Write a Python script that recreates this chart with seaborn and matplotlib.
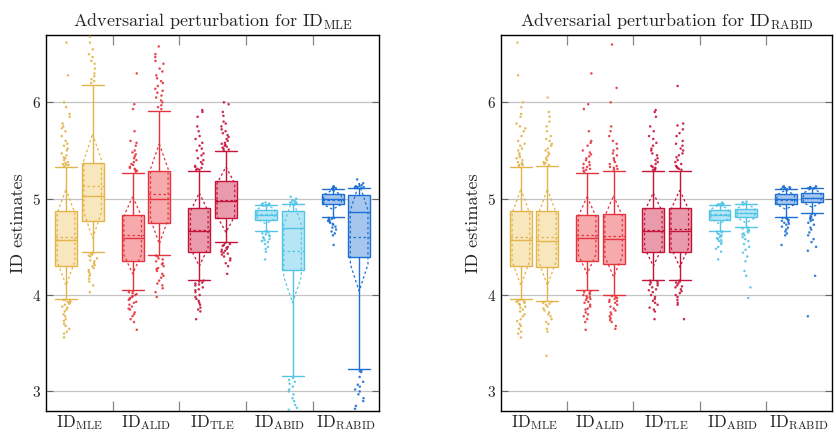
import numpy as np
import pandas as pd
import matplotlib
matplotlib.use("Agg")
import matplotlib.pyplot as plt
import seaborn as sns

# estimators and colours
estimators = ["MLE", "ALID", "TLE", "ABID", "RABID"]
edge_colors = ["#E2B44A", "#E5343D", "#C5143A", "#52C5E6", "#1D6FD2"]
fill_colors = ["#F8E6BC", "#F6AAAC", "#E99BAB", "#B6E6F5", "#A7C6EE"]

# clean estimates (same in both panels): q1, median, q3, whisker low/high, mean, sd
clean_q1 = [4.30, 4.35, 4.45, 4.78, 4.95]
clean_med = [4.57, 4.59, 4.66, 4.83, 5.00]
clean_q3 = [4.87, 4.83, 4.90, 4.88, 5.05]
clean_wlo = [3.96, 4.05, 4.16, 4.67, 4.81]
clean_whi = [5.33, 5.27, 5.29, 4.93, 5.10]
clean_mean = [4.60, 4.62, 4.68, 4.84, 4.99]
clean_sd = [0.25, 0.20, 0.19, 0.05, 0.05]

# adversarial perturbation for ID_MLE
advmle_q1 = [4.77, 4.75, 4.80, 4.26, 4.39]
advmle_med = [5.03, 5.00, 4.98, 4.70, 4.86]
advmle_q3 = [5.37, 5.29, 5.18, 4.87, 5.04]
advmle_wlo = [4.45, 4.42, 4.55, 3.16, 3.23]
advmle_whi = [6.18, 5.91, 5.49, 4.94, 5.11]
advmle_mean = [5.13, 5.05, 4.99, 4.46, 4.60]
advmle_sd = [0.27, 0.26, 0.17, 0.27, 0.28]

# adversarial perturbation for ID_RABID
advrabid_q1 = [4.29, 4.32, 4.45, 4.81, 4.97]
advrabid_med = [4.56, 4.58, 4.67, 4.85, 5.01]
advrabid_q3 = [4.87, 4.84, 4.90, 4.89, 5.06]
advrabid_wlo = [3.94, 4.00, 4.16, 4.71, 4.85]
advrabid_whi = [5.34, 5.29, 5.29, 4.95, 5.11]
advrabid_mean = [4.60, 4.61, 4.69, 4.85, 5.01]
advrabid_sd = [0.25, 0.21, 0.20, 0.05, 0.05]

# outliers (points beyond the whiskers)
clean_out = [
    [6.62, 6.28, 6.0, 5.95, 5.88, 5.85, 5.78, 5.75, 5.73, 5.7, 5.65, 5.6, 5.57, 5.55, 5.52, 5.5,
     5.47, 5.45, 5.43, 5.42, 5.4, 5.38, 5.37, 5.36, 5.35, 5.35, 5.34,
     3.95, 3.95, 3.94, 3.93, 3.93, 3.92, 3.91, 3.9, 3.88, 3.87, 3.85, 3.83, 3.8, 3.78, 3.75,
     3.73, 3.7, 3.68, 3.65, 3.62, 3.6, 3.56],
    [6.3, 5.98, 5.93, 5.7, 5.6, 5.58, 5.55, 5.5, 5.48, 5.46, 5.44, 5.42, 5.4, 5.38, 5.36, 5.35,
     5.33, 5.32, 5.31, 5.3, 5.29, 5.28,
     4.04, 4.03, 4.02, 4.01, 4.0, 3.99, 3.98, 3.97, 3.96, 3.95, 3.93, 3.92, 3.9, 3.88, 3.86,
     3.85, 3.82, 3.8, 3.78, 3.75, 3.72, 3.64],
    [5.92, 5.9, 5.85, 5.75, 5.7, 5.65, 5.62, 5.58, 5.55, 5.52, 5.5, 5.47, 5.45, 5.42, 5.4, 5.38,
     5.36, 5.34, 5.33, 5.32, 5.31, 5.3, 5.3,
     4.15, 4.14, 4.13, 4.12, 4.11, 4.1, 4.08, 4.06, 4.05, 4.03, 4.0, 3.98, 3.96, 3.94, 3.92,
     3.9, 3.87, 3.85, 3.83, 3.75],
    [4.96, 4.95, 4.95, 4.94, 4.94, 4.94, 4.93, 4.93,
     4.66, 4.66, 4.65, 4.64, 4.63, 4.62, 4.61, 4.6, 4.59, 4.58, 4.57, 4.56, 4.55, 4.53, 4.5,
     4.48, 4.45, 4.37],
    [5.13, 5.12, 5.12, 5.11, 5.11, 5.11, 5.1, 5.1,
     4.8, 4.8, 4.79, 4.78, 4.78, 4.77, 4.76, 4.75, 4.74, 4.73, 4.71, 4.7, 4.68, 4.66, 4.64,
     4.62, 4.52],
]
advmle_out = [
    [6.72, 6.68, 6.62, 6.55, 6.5, 6.47, 6.43, 6.4, 6.35, 6.3, 6.27, 6.24, 6.22, 6.2,
     4.44, 4.43, 4.42, 4.41, 4.4, 4.38, 4.36, 4.35, 4.33, 4.31, 4.3, 4.28, 4.26, 4.24, 4.22,
     4.2, 4.17, 4.14, 4.1, 4.03],
    [6.58, 6.5, 6.47, 6.43, 6.4, 6.35, 6.32, 6.28, 6.25, 6.22, 6.2, 6.17, 6.14, 6.12, 6.1,
     6.07, 6.05, 6.02, 6.0, 5.97, 5.95, 5.93,
     4.41, 4.4, 4.38, 4.37, 4.35, 4.33, 4.32, 4.3, 4.28, 4.27, 4.25, 4.22, 4.2, 4.18, 4.15,
     4.12, 4.1, 4.07, 4.03, 3.98],
    [6.0, 5.98, 5.9, 5.86, 5.8, 5.78, 5.75, 5.72, 5.7, 5.68, 5.66, 5.64, 5.62, 5.6, 5.58,
     5.57, 5.56, 5.55, 5.54, 5.53, 5.52, 5.51, 5.5,
     4.54, 4.53, 4.52, 4.51, 4.5, 4.49, 4.48, 4.47, 4.46, 4.45, 4.44, 4.43, 4.42, 4.4, 4.38,
     4.36, 4.33, 4.3, 4.22],
    [5.02, 5.0, 4.98, 4.97, 4.96, 4.96, 4.95, 4.95, 4.95,
     3.14, 3.12, 3.1, 3.08, 3.05, 3.02, 3.0, 2.97, 2.93, 2.9, 2.86, 2.83, 2.81],
    [5.2, 5.16, 5.14, 5.13, 5.13, 5.12, 5.12, 5.12, 5.11, 5.11,
     3.22, 3.21, 3.2, 3.15, 3.1, 3.07, 3.05, 3.02, 3.0, 2.97, 2.93, 2.9, 2.85, 2.82],
]
advrabid_out = [
    [6.05, 5.9, 5.85, 5.8, 5.75, 5.7, 5.65, 5.62, 5.6, 5.57, 5.55, 5.52, 5.5, 5.48, 5.46,
     5.44, 5.42, 5.4, 5.38, 5.37, 5.36, 5.35,
     3.93, 3.93, 3.92, 3.91, 3.9, 3.88, 3.86, 3.84, 3.82, 3.8, 3.78, 3.75, 3.72, 3.7, 3.65,
     3.62, 3.37],
    [6.6, 6.15, 6.0, 5.75, 5.7, 5.65, 5.6, 5.57, 5.52, 5.5, 5.47, 5.45, 5.42, 5.4, 5.38,
     5.36, 5.34, 5.33, 5.32, 5.31, 5.3,
     3.99, 3.98, 3.97, 3.96, 3.95, 3.94, 3.93, 3.92, 3.9, 3.88, 3.86, 3.84, 3.82, 3.8, 3.78,
     3.76, 3.74, 3.72, 3.68, 3.65],
    [6.17, 5.78, 5.76, 5.72, 5.68, 5.65, 5.6, 5.57, 5.55, 5.52, 5.5, 5.47, 5.45, 5.43, 5.4,
     5.38, 5.36, 5.34, 5.33, 5.32, 5.31, 5.3,
     4.15, 4.14, 4.13, 4.12, 4.1, 4.09, 4.08, 4.06, 4.04, 4.02, 4.0, 3.98, 3.95, 3.92, 3.9,
     3.75],
    [4.97, 4.96, 4.96, 4.95,
     4.7, 4.69, 4.68, 4.67, 4.66, 4.65, 4.64, 4.63, 4.62, 4.6, 4.58, 4.56, 4.53, 4.5, 4.47,
     4.44, 4.4, 4.35, 4.25, 4.2, 4.08, 3.97],
    [5.13, 5.12, 5.12, 5.11, 5.11, 5.11,
     4.84, 4.83, 4.82, 4.81, 4.8, 4.79, 4.78, 4.77, 4.75, 4.73, 4.7, 4.68, 4.65, 4.62, 4.58,
     4.55, 4.5, 4.46, 4.2, 3.78],
]

panel_titles = [r"Adversarial perturbation for $\mathrm{ID}_{\mathrm{MLE}}$",
                r"Adversarial perturbation for $\mathrm{ID}_{\mathrm{RABID}}$"]
tick_labels = [r"$\mathrm{ID}_{\mathrm{%s}}$" % e for e in estimators]

sns.set_style("white")
plt.rcParams["font.family"] = ["cmr10", "DejaVu Serif"]
plt.rcParams["mathtext.fontset"] = "cm"
plt.rcParams["axes.formatter.use_mathtext"] = True
np.random.seed(3)

OFF = 0.2
BW = 0.33


def box_stats(q1, med, q3, wlo, whi):
    return [dict(q1=a, med=b, q3=c, whislo=d, whishi=e, fliers=[])
            for a, b, c, d, e in zip(q1, med, q3, wlo, whi)]


def draw_boxes(ax, stats, pos, means, sds):
    for s, p, m, sd, ec, fc in zip(stats, pos, means, sds, edge_colors, fill_colors):
        ax.bxp([s], positions=[p], widths=BW, capwidths=BW, patch_artist=True,
               showfliers=False,
               boxprops=dict(facecolor=fc, edgecolor=ec, linewidth=1.0),
               medianprops=dict(color=ec, linewidth=1.0),
               whiskerprops=dict(color=ec, linewidth=1.0),
               capprops=dict(color=ec, linewidth=1.0))
        # mean +- sd marker (dashed)
        hw = BW / 2 * 0.8
        xs = [p, p + hw, p + hw, p, p - hw, p - hw, p]
        ys = [m + 2 * sd, m + sd, m - sd, m - 2 * sd, m - sd, m + sd, m + 2 * sd]
        ax.plot(xs, ys, color=ec, lw=0.9, ls=(0, (2, 2)), zorder=3)
        ax.plot([p - BW / 2, p + BW / 2], [m, m], color=ec, lw=0.9, ls=(0, (2, 2)), zorder=3)


def outlier_frame(clean, adv):
    rows = []
    for i, e in enumerate(estimators):
        for v in clean[i]:
            rows.append((i - OFF, e, v))
        for v in adv[i]:
            rows.append((i + OFF, e, v))
    return pd.DataFrame(rows, columns=["pos", "est", "value"])


panels = [
    (box_stats(advmle_q1, advmle_med, advmle_q3, advmle_wlo, advmle_whi), advmle_mean, advmle_sd, advmle_out),
    (box_stats(advrabid_q1, advrabid_med, advrabid_q3, advrabid_wlo, advrabid_whi), advrabid_mean, advrabid_sd, advrabid_out),
]
clean_stats = box_stats(clean_q1, clean_med, clean_q3, clean_wlo, clean_whi)

fig = plt.figure(figsize=(8.37, 4.36), dpi=100)
ax_rects = [[0.055, 0.058, 0.398, 0.862], [0.5986, 0.058, 0.3955, 0.862]]
idx = np.arange(len(estimators))

for k, (adv_stats, adv_mean, adv_sd, adv_out) in enumerate(panels):
    ax = fig.add_axes(ax_rects[k])
    ax.yaxis.grid(True, color="#c4c4c4", lw=0.9, zorder=0)
    ax.set_axisbelow(True)
    draw_boxes(ax, clean_stats, idx - OFF, clean_mean, clean_sd)
    draw_boxes(ax, adv_stats, idx + OFF, adv_mean, adv_sd)

    df = outlier_frame(clean_out, adv_out)
    sns.stripplot(data=df, x="pos", y="value", hue="est", hue_order=estimators,
                  palette=edge_colors, native_scale=True, jitter=0.17, size=1.8,
                  linewidth=0, alpha=0.9, legend=False, zorder=4, ax=ax)

    ax.set_xlim(-0.5, 4.5)
    ax.set_ylim(2.8, 6.7)
    ax.set_xticks(idx)
    ax.set_xticklabels(tick_labels, fontsize=12)
    ax.set_xticks(idx[:-1] + 0.5, minor=True)
    ax.tick_params(axis="x", which="major", length=0, pad=2)
    ax.tick_params(axis="x", which="minor", length=7, direction="in", color="#888888",
                   top=True, bottom=True, width=0.9)
    ax.set_yticks([3, 4, 5, 6])
    ax.tick_params(axis="y", direction="in", length=5, left=True, right=True,
                   labelsize=11, color="#666666")
    ax.set_xlabel("")
    ax.set_ylabel("ID estimates", fontsize=13)
    ax.set_title(panel_titles[k], fontsize=13, pad=6)
    for sp in ax.spines.values():
        sp.set_color("black")
        sp.set_linewidth(1.0)

fig.savefig("out.png", dpi=100)
